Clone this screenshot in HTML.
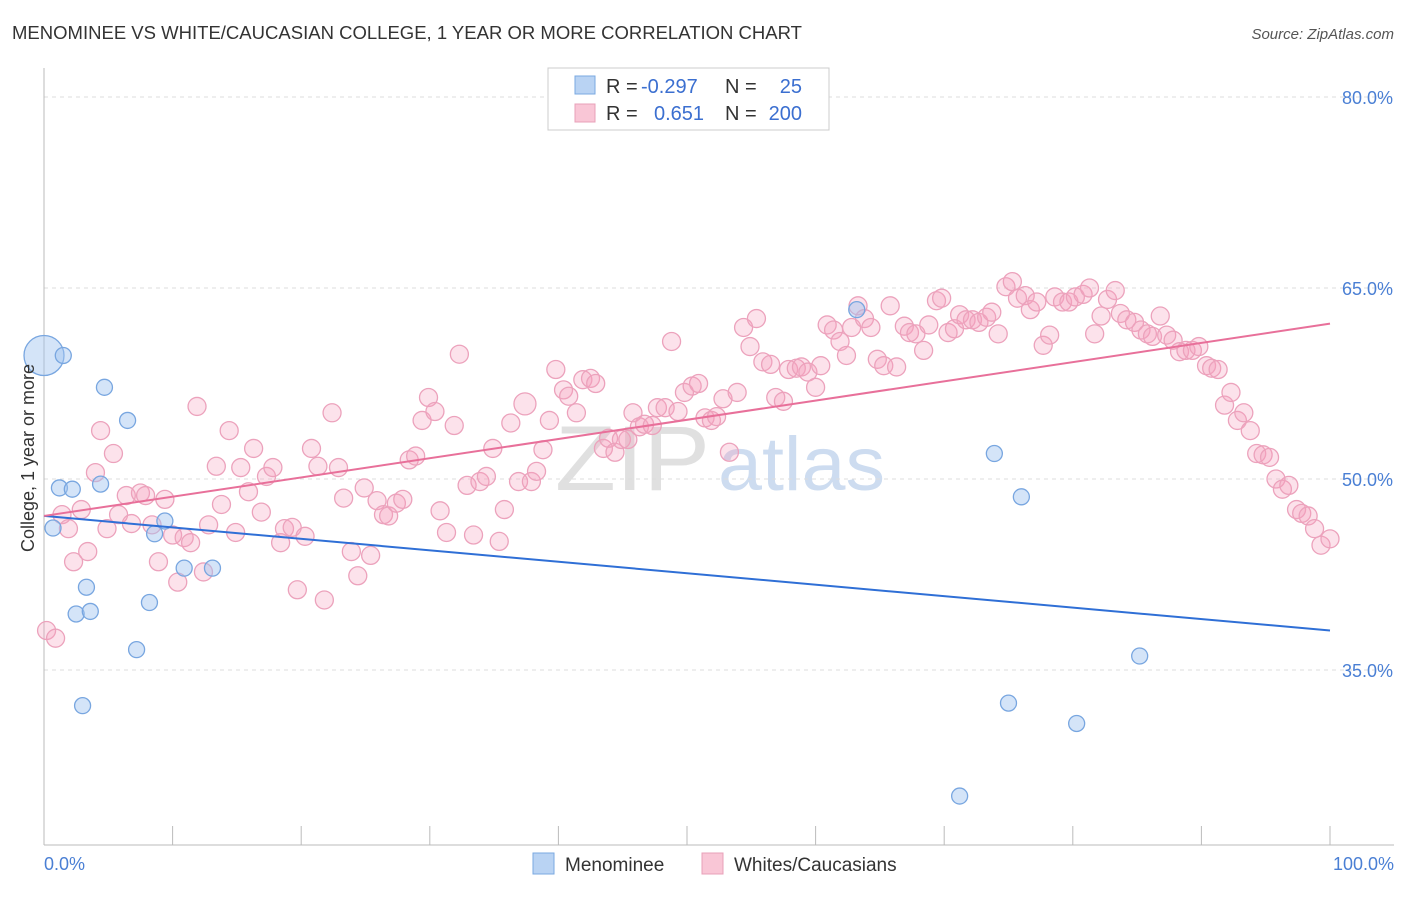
<!DOCTYPE html>
<html><head><meta charset="utf-8"><style>
body{margin:0;background:#fff;font-family:"Liberation Sans",sans-serif}
svg text{font-family:"Liberation Sans",sans-serif}
</style></head><body>
<svg id="chart" width="1406" height="892" viewBox="0 0 1406 892" xmlns="http://www.w3.org/2000/svg">
<text x="12" y="39" font-size="18" fill="#333" textLength="790" lengthAdjust="spacingAndGlyphs">MENOMINEE VS WHITE/CAUCASIAN COLLEGE, 1 YEAR OR MORE CORRELATION CHART</text>
<text x="1394" y="39" font-size="15" fill="#555" text-anchor="end" font-style="italic">Source: ZipAtlas.com</text>
<text x="555" y="490" font-size="92" fill="#e0e0e0" font-family="Liberation Serif" textLength="155" lengthAdjust="spacingAndGlyphs">ZIP</text>
<text x="718" y="490" font-size="76" fill="#cddcf0" textLength="167" lengthAdjust="spacingAndGlyphs">atlas</text>
<g id="grid"></g>
<g id="axes"></g>
<g id="pinkPts"></g>
<g id="bluePts"></g>
<g id="lines"></g>
<text transform="translate(34,458) rotate(-90)" font-size="18" fill="#333" text-anchor="middle">College, 1 year or more</text>
<text x="44" y="870" font-size="18" fill="#4a7fd4">0.0%</text>
<text x="1394" y="870" font-size="18" fill="#4a7fd4" text-anchor="end">100.0%</text>
<g>
<rect x="548" y="68" width="281" height="62" fill="#fff" stroke="#ccc"/>
<rect x="575" y="76" width="20" height="18" fill="#b9d3f3" stroke="#7aa8e0"/>
<rect x="575" y="104" width="20" height="18" fill="#f9c6d6" stroke="#e8a0b8"/>
<text x="606" y="93" font-size="20" fill="#333">R =</text>
<text x="641" y="93" font-size="20" fill="#3b6fd0">-0.297</text>
<text x="725" y="93" font-size="20" fill="#333">N =</text>
<text x="802" y="93" font-size="20" fill="#3b6fd0" text-anchor="end">25</text>
<text x="606" y="120" font-size="20" fill="#333">R =</text>
<text x="654" y="120" font-size="20" fill="#3b6fd0">0.651</text>
<text x="725" y="120" font-size="20" fill="#333">N =</text>
<text x="802" y="120" font-size="20" fill="#3b6fd0" text-anchor="end">200</text>
</g>
<g>
<rect x="533" y="853" width="21" height="21" fill="#b9d3f3" stroke="#7aa8e0"/>
<text x="565" y="871" font-size="19" fill="#333">Menominee</text>
<rect x="702" y="853" width="21" height="21" fill="#f9c6d6" stroke="#e8a0b8"/>
<text x="734" y="871" font-size="19" fill="#333">Whites/Caucasians</text>
</g>
</svg>
<script>
const yTicks=[80,65,50,35];
const xTicks=[0,10,20,30,40,50,60,70,80,90,100];
const blueX=[0,1.5,0.7,1.2,2.2,4.4,4.7,6.5,9.4,8.6,3.3,2.5,3.6,8.2,10.9,13.1,7.2,3.0,63.2,73.9,76.0,85.2,75.0,80.3,71.2];
const blueY=[59.7,59.7,46.15,49.3,49.2,49.6,57.2,54.6,46.7,45.7,41.5,39.4,39.6,40.3,43.0,43.0,36.6,32.2,63.3,52.0,48.6,36.1,32.4,30.8,25.1];
const blueSize=[20,8,8,8,8,8,8,8,8,8,8,8,8,8,8,8,8,8,8,8,8,8,8,8,8];
const pinkX=[0.2,0.9,1.4,1.9,2.3,2.9,3.4,4.0,4.4,4.9,5.4,5.8,6.4,6.8,7.5,7.9,8.4,8.9,9.4,10.0,10.4,10.9,11.4,11.9,12.4,12.8,13.4,13.8,14.4,14.9,15.3,15.9,16.3,16.9,17.3,17.8,18.4,18.7,19.3,19.7,20.3,20.8,21.3,21.8,22.4,22.9,23.3,23.9,24.4,24.9,25.4,25.9,26.4,26.8,27.4,27.9,28.4,28.9,29.4,29.9,30.4,30.8,31.3,31.9,32.3,32.9,33.4,33.9,34.4,34.9,35.4,35.8,36.3,36.9,37.4,37.9,38.3,38.8,39.3,39.8,40.4,40.8,41.4,41.9,42.5,42.9,43.5,43.9,44.4,44.9,45.4,45.8,46.3,46.7,47.3,47.7,48.3,48.8,49.3,49.8,50.4,50.9,51.4,51.9,52.3,52.8,53.3,53.9,54.4,54.9,55.4,55.9,56.5,56.9,57.5,57.9,58.5,58.9,59.4,60.0,60.4,60.9,61.4,61.9,62.4,62.8,63.3,63.8,64.3,64.8,65.3,65.8,66.3,66.9,67.3,67.8,68.4,68.8,69.4,69.8,70.3,70.8,71.2,71.7,72.2,72.7,73.3,73.7,74.2,74.8,75.3,75.7,76.3,76.7,77.2,77.7,78.2,78.6,79.2,79.7,80.2,80.8,81.3,81.7,82.2,82.7,83.3,83.7,84.2,84.8,85.3,85.8,86.2,86.8,87.3,87.8,88.3,88.8,89.3,89.8,90.4,90.8,91.3,91.8,92.3,92.8,93.3,93.8,94.3,94.8,95.3,95.8,96.3,96.8,97.4,97.8,98.3,98.8,99.3,100];
const pinkY=[38.1,37.5,47.2,46.1,43.5,47.6,44.3,50.5,53.8,46.1,52.0,47.2,48.7,46.5,48.9,48.7,46.4,43.5,48.4,45.6,41.9,45.4,45.0,55.7,42.7,46.4,51.0,48.0,53.8,45.8,50.9,49.0,52.4,47.4,50.2,50.9,45.0,46.1,46.2,41.3,45.5,52.4,51.0,40.5,55.2,50.9,48.5,44.3,42.4,49.3,44.0,48.3,47.2,47.1,48.1,48.4,51.5,51.8,54.6,56.4,55.3,47.5,45.8,54.2,59.8,49.5,45.6,49.8,50.2,52.4,45.1,47.6,54.4,49.8,55.9,49.8,50.6,52.3,54.6,58.6,57.0,56.5,55.2,57.8,57.9,57.5,52.4,53.2,52.1,53.1,53.1,55.2,54.1,54.3,54.2,55.6,55.6,60.8,55.3,56.8,57.3,57.5,54.8,54.6,54.9,56.3,52.1,56.8,61.9,60.4,62.6,59.2,59.0,56.4,56.1,58.6,58.7,58.8,58.4,57.2,58.9,62.1,61.7,60.8,59.7,61.9,63.6,62.6,61.9,59.4,58.9,63.6,58.8,62.0,61.5,61.4,60.1,62.1,64.0,64.2,61.5,61.8,62.9,62.5,62.5,62.3,62.7,63.1,61.4,65.1,65.5,64.2,64.4,63.3,63.9,60.5,61.3,64.3,63.9,63.9,64.3,64.5,65.0,61.4,62.8,64.1,64.8,63.0,62.5,62.3,61.7,61.4,61.2,62.8,61.3,60.9,60.0,60.1,60.1,60.4,58.9,58.7,58.6,55.8,56.8,54.6,55.2,53.8,52.0,51.9,51.7,50.0,49.2,49.5,47.6,47.3,47.1,46.1,44.8,45.3];
const blueTrend=[47.1,38.1];
const pinkTrend=[47.1,62.2];
const X0=44,X1=1330,Y80=97,PPU=191/15;
const sx=v=>X0+(X1-X0)*v/100;
const sy=v=>Y80+(80-v)*PPU;
const NS="http://www.w3.org/2000/svg";
function mk(tag,attrs,parent){const e=document.createElementNS(NS,tag);for(const k in attrs)e.setAttribute(k,attrs[k]);parent.appendChild(e);return e;}
const grid=document.getElementById('grid');
yTicks.forEach(t=>{
 const l=mk('line',{x1:44,x2:1394,y1:sy(t),y2:sy(t),stroke:'#ddd','stroke-dasharray':'4,4'},grid);
 
 
 const tx=mk('text',{x:1393,y:sy(t)+7,'font-size':18,fill:'#4a7fd4','text-anchor':'end'},grid);
 tx.textContent=t.toFixed(1)+'%';
 
 
});
const axes=document.getElementById('axes');
const ya=mk('line',{x1:44,x2:44,y1:68,y2:845,stroke:'#bbb'},axes);


const xa=mk('line',{x1:44,x2:1394,y1:845,y2:845,stroke:'#bbb'},axes);


xTicks.forEach(t=>{
 const l=mk('line',{x1:sx(t),x2:sx(t),y1:826,y2:845,stroke:'#bbb'},axes);
 
 
});
const pg=document.getElementById('pinkPts');
pinkX.forEach((x,i)=>{
 const c=mk('circle',{cx:sx(x),cy:sy(pinkY[i]),r:(i==74?11:9),fill:'rgba(244,160,190,0.3)',stroke:'#eca2bc','stroke-width':1.3},pg);
 
 
});
const bg=document.getElementById('bluePts');
blueX.forEach((x,i)=>{
 const c=mk('circle',{cx:sx(x),cy:sy(blueY[i]),r:blueSize[i],fill:'rgba(160,195,240,0.45)',stroke:'#78a6e0','stroke-width':1.3},bg);
 
 
});
const lg=document.getElementById('lines');
const bl=mk('line',{x1:sx(0),y1:sy(blueTrend[0]),x2:sx(100),y2:sy(blueTrend[1]),stroke:'#2f6fd6','stroke-width':2},lg);


const pl=mk('line',{x1:sx(0),y1:sy(pinkTrend[0]),x2:sx(100),y2:sy(pinkTrend[1]),stroke:'#e8709a','stroke-width':2},lg);


</script>
</body></html>
